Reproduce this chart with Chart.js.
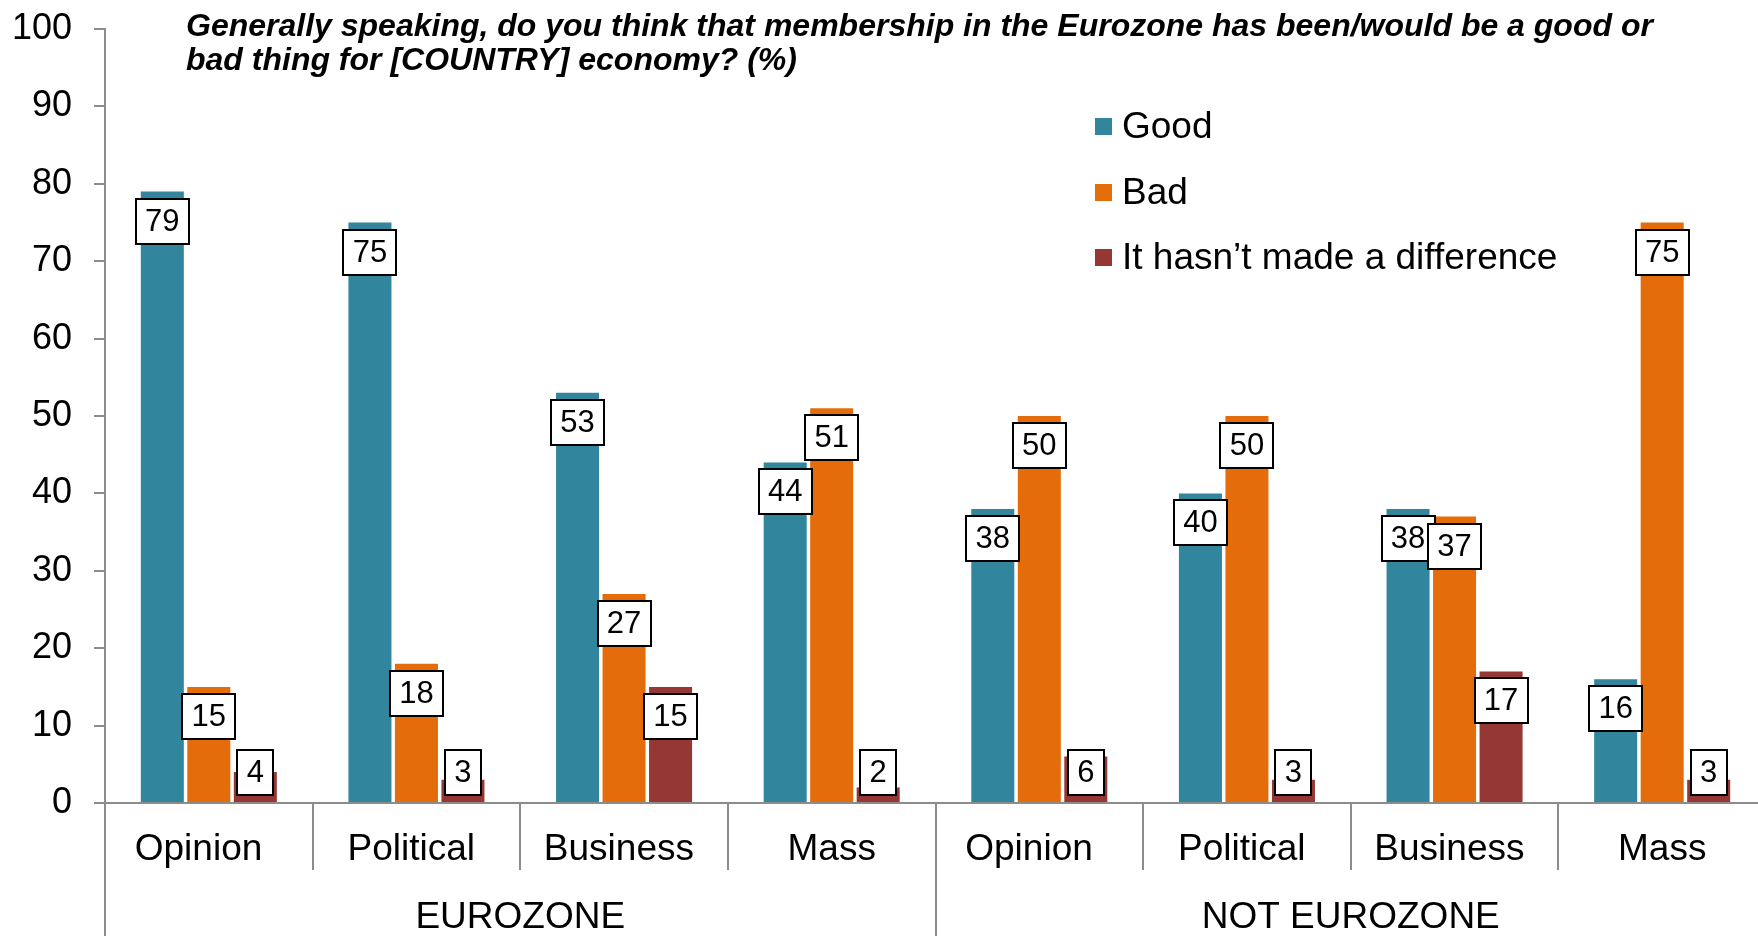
<!DOCTYPE html>
<html>
<head>
<meta charset="utf-8">
<title>Eurozone membership</title>
<script src="https://cdn.jsdelivr.net/npm/chart.js@4.4.1/dist/chart.umd.min.js"></script>
<style>
  html, body { margin: 0; padding: 0; background: #fff; overflow: hidden; }
  #wrap { width: 1770px; height: 936px; }
</style>
</head>
<body>
<div id="wrap"><canvas id="myChart" width="1770" height="936"></canvas></div>
<script>
// Survey data, %  (labels keep their trailing blanks, they shift the text a bit)
const categories = ['Opinion  ', 'Political ', 'Business ', 'Mass', 'Opinion  ', 'Political ', 'Business ', 'Mass'];
const groups = ['EUROZONE', 'NOT EUROZONE'];
const seriesNames = ['Good', 'Bad', 'It hasn’t made a difference'];
const goodValues = [79, 75, 53, 44, 38, 40, 38, 16];
const badValues = [15, 18, 27, 51, 50, 50, 37, 75];
const noDiffValues = [4, 3, 15, 2, 6, 3, 17, 3];
const titleLines = [
  'Generally speaking, do you think that membership in the Eurozone has been/would be a good or',
  'bad thing for [COUNTRY] economy? (%)'
];

const FONT = '"Liberation Sans", Arial, sans-serif';
const AXIS_GREY = '#8c8c8c';
const colors = ['#31859C', '#E46C0A', '#953735'];

// white boxes with the value, just under the top of each bar
const valueBoxes = {
  id: 'valueBoxes',
  afterDatasetsDraw(chart) {
    const ctx = chart.ctx;
    const limit = chart.scales.y.getPixelForValue(0) - 8;
    ctx.save();
    ctx.font = '31px ' + FONT;
    ctx.textAlign = 'center';
    ctx.textBaseline = 'middle';
    chart.data.datasets.forEach((ds, i) => {
      chart.getDatasetMeta(i).data.forEach((bar, j) => {
        let text = String(ds.data[j]);
        let w = Math.round(ctx.measureText(text).width) + 19;
        let h = 45;
        let top = Math.round(Math.min(bar.y + 7, limit - h));
        let left = Math.round(bar.x - w / 2);
        ctx.fillStyle = '#fff';
        ctx.fillRect(left, top, w, h);
        ctx.lineWidth = 2;
        ctx.strokeStyle = '#000';
        ctx.strokeRect(left, top, w, h);
        ctx.fillStyle = '#000';
        ctx.fillText(text, bar.x, top + h / 2 + 1);
      });
    });
    ctx.restore();
  }
};

// title in the top left and legend inside the plot
const titleAndLegend = {
  id: 'titleAndLegend',
  afterDraw(chart) {
    const ctx = chart.ctx;
    ctx.save();
    ctx.fillStyle = '#000';
    ctx.textAlign = 'left';
    ctx.textBaseline = 'alphabetic';
    ctx.font = 'italic bold 32px ' + FONT;
    ctx.fillText(titleLines[0], 186, 36);
    ctx.fillText(titleLines[1], 186, 70);

    ctx.font = '37px ' + FONT;
    ctx.textBaseline = 'middle';
    chart.data.datasets.forEach((ds, i) => {
      let y = 127 + i * 65.5;
      ctx.fillStyle = ds.backgroundColor;
      ctx.fillRect(1095, Math.round(y - 9), 17, 17);
      ctx.fillStyle = '#000';
      ctx.fillText(ds.label, 1122, y + 1);
    });
    ctx.restore();
  }
};

function makeDataset(i, values) {
  return {
    label: seriesNames[i],
    data: values,
    backgroundColor: colors[i],
    borderWidth: 0,
    categoryPercentage: 0.672,
    barPercentage: 0.925
  };
}

function drawChart() {
  const ctx = document.getElementById('myChart').getContext('2d');
  const labelFont = { size: 37, family: FONT };

  new Chart(ctx, {
    type: 'bar',
    data: {
      labels: categories,
      datasets: [
        makeDataset(0, goodValues),
        makeDataset(1, badValues),
        makeDataset(2, noDiffValues)
      ]
    },
    options: {
      responsive: false,
      animation: false,
      layout: { padding: { top: 29, right: 4, left: 0, bottom: 0 } },
      plugins: {
        legend: { display: false },
        title: { display: false },
        tooltip: { enabled: false }
      },
      scales: {
        x: {
          offset: true,
          weight: 0,
          grid: { offset: true, drawOnChartArea: false, tickLength: 67, color: AXIS_GREY, lineWidth: 2 },
          border: { color: AXIS_GREY, width: 2 },
          ticks: { color: '#000', font: labelFont, padding: -42, maxRotation: 0, autoSkip: false },
          afterFit(scale) { scale.height = 67; scale.paddingLeft = 0; scale.paddingRight = 0; }
        },
        x2: {
          type: 'category',
          labels: groups,
          position: 'bottom',
          offset: true,
          weight: 1,
          grid: { offset: true, drawOnChartArea: false, tickLength: 66, color: AXIS_GREY, lineWidth: 2 },
          border: { display: false },
          ticks: { color: '#000', font: labelFont, padding: -40, maxRotation: 0, autoSkip: false },
          afterFit(scale) { scale.height = 66; scale.paddingLeft = 0; scale.paddingRight = 0; }
        },
        y: {
          min: 0,
          max: 100,
          ticks: { stepSize: 10, color: '#000', font: { size: 36, family: FONT }, padding: 22 },
          grid: { drawOnChartArea: false, tickLength: 11, color: AXIS_GREY, lineWidth: 2 },
          border: { color: AXIS_GREY, width: 2 },
          afterFit(scale) { scale.width = 105; scale.paddingTop = 0; scale.paddingBottom = 0; }
        }
      }
    },
    plugins: [valueBoxes, titleAndLegend]
  });
}

drawChart();
</script>
</body>
</html>
